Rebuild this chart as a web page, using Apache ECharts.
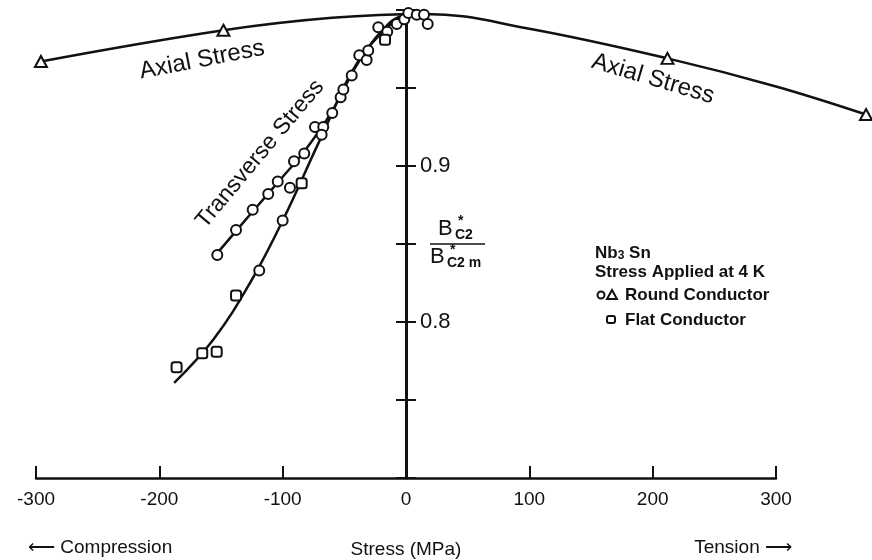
<!DOCTYPE html>
<html>
<head>
<meta charset="utf-8">
<script src="https://cdn.jsdelivr.net/npm/echarts@6/dist/echarts.min.js"></script>
<style>
  html, body { margin: 0; padding: 0; background: #fff; }
  #chart { width: 872px; height: 560px; }
</style>
</head>
<body>
<div id="chart"></div>
<script>
// stress (MPa) vs Bc2*/Bc2m
const axialCurve = [
    [-296, 0.967], [-148, 0.987], [-60, 0.995], [15, 0.9975],
    [100, 0.988], [212, 0.969], [300, 0.951], [373, 0.933]
];
const axialPoints = [[-296, 0.967], [-148, 0.987], [212, 0.969], [373, 0.933]];

const roundCurve = [
    [-153.2, 0.844], [-124.1, 0.871], [-102.2, 0.891], [-81.9, 0.910],
    [-60.0, 0.935], [-37.3, 0.968], [-13.0, 0.992], [0, 0.997]
];
const flatCurve = [
    [-188.0, 0.761], [-156.0, 0.789], [-126.5, 0.825], [-100.0, 0.865],
    [-68.4, 0.919], [-37.3, 0.969], [-4.9, 0.996]
];

const roundPoints = [
    [-153.0, 0.843], [-137.8, 0.859], [-124.3, 0.872], [-111.7, 0.882], [-104.0, 0.890],
    [-90.8, 0.903], [-82.5, 0.908], [-73.8, 0.925], [-67.1, 0.925], [-68.4, 0.920],
    [-59.8, 0.934], [-53.0, 0.944], [-50.8, 0.949], [-44.0, 0.958], [-37.9, 0.971],
    [-31.9, 0.968], [-30.6, 0.974], [-22.5, 0.989], [-15.2, 0.986], [-7.5, 0.991],
    [-1.4, 0.994], [1.9, 0.998], [8.7, 0.997], [14.6, 0.997], [17.6, 0.991],
    [-119.0, 0.833], [-100.0, 0.865], [-94.1, 0.886]
];
const flatPoints = [
    [-186.0, 0.771], [-165.2, 0.780], [-153.5, 0.781], [-137.8, 0.817],
    [-84.6, 0.889], [-17.0, 0.981]
];

const xTickLabels = ['-300', '-200', '-100', '0', '100', '200', '300'];
const yTickLabels = ['0.8', '0.9'];

const FONT = "'Liberation Sans', Arial, sans-serif";
const INK = '#111';

const chart = echarts.init(document.getElementById('chart'), null, { renderer: 'canvas' });

function lineSeries(name, data) {
    return {
        type: 'line', name: name, data: data,
        xAxisIndex: 0, yAxisIndex: 0,
        smooth: 0.4,
        showSymbol: false, symbol: 'none',
        lineStyle: { color: INK, width: 2.5 },
        silent: true, z: 2
    };
}

function pointSeries(name, data, symbol, size) {
    return {
        type: 'scatter', name: name, data: data,
        xAxisIndex: 0, yAxisIndex: 0,
        symbol: symbol, symbolSize: size, clip: false,
        itemStyle: { color: '#fff', borderColor: INK, borderWidth: 2, opacity: 1 },
        silent: true, z: 3
    };
}

const hiddenAxis = (grid, min, max) => ({ type: 'value', gridIndex: grid, min: min, max: max, show: false });

const option = {
    backgroundColor: '#fff',
    animation: false,
    textStyle: { fontFamily: FONT, color: INK },
    grid: [
        // data grid, same scale as the axis grid but running on to 375 MPa
        { left: 36, top: 10, width: 832.5, bottom: 82, outerBoundsMode: 'none' },
        // x axis: -300..300
        { left: 36, top: 10, width: 740, bottom: 82, outerBoundsMode: 'none' },
        // y axis sits at stress = 0
        { left: 406, top: 10, width: 100, bottom: 82, outerBoundsMode: 'none' }
    ],
    xAxis: [
        hiddenAxis(0, -300, 375),
        {
            type: 'value', gridIndex: 1, min: -300, max: 300, interval: 100,
            axisLine: { show: true, onZero: false, lineStyle: { color: INK, width: 2.5 } },
            axisTick: { show: true, inside: true, length: 12, lineStyle: { color: INK, width: 2 } },
            axisLabel: {
                margin: 12, fontSize: 19, color: INK, fontFamily: FONT,
                formatter: v => xTickLabels[Math.round((v + 300) / 100)]
            },
            splitLine: { show: false },
            name: 'Stress (MPa)', nameLocation: 'middle', nameGap: 62,
            nameTextStyle: { fontSize: 19, color: INK, fontFamily: FONT }
        },
        hiddenAxis(2, 0, 1)
    ],
    yAxis: [
        hiddenAxis(0, 0.7, 1.0),
        hiddenAxis(1, 0.7, 1.0),
        {
            type: 'value', gridIndex: 2, min: 0.7, max: 1.0, interval: 0.05, position: 'left',
            axisLine: { show: true, onZero: false, lineStyle: { color: INK, width: 3 } },
            axisTick: { show: true, inside: true, length: 10, lineStyle: { color: INK, width: 2 } },
            axisLabel: {
                inside: true, margin: 14, fontSize: 22, color: INK, fontFamily: FONT,
                formatter: v => {
                    const s = v.toFixed(1);
                    return yTickLabels.includes(s) && Math.abs(v - parseFloat(s)) < 1e-6 ? s : '';
                }
            },
            splitLine: { show: false }
        },
        {
            // outer half of the crossing ticks
            type: 'value', gridIndex: 2, min: 0.7, max: 1.0, interval: 0.05, position: 'left',
            axisLine: { show: false, onZero: false },
            axisTick: { show: true, inside: false, length: 10, lineStyle: { color: INK, width: 2 } },
            axisLabel: { show: false },
            splitLine: { show: false }
        }
    ],
    series: [
        lineSeries('Axial', axialCurve),
        lineSeries('Transverse round', roundCurve),
        lineSeries('Transverse flat', flatCurve),
        pointSeries('Axial points', axialPoints, 'triangle', [12, 11]),
        pointSeries('Round Conductor', roundPoints, 'circle', 10),
        pointSeries('Flat Conductor', flatPoints, 'roundRect', 10)
    ],
    graphic: [
        {
            type: 'text', x: 202, y: 60, rotation: 11 * Math.PI / 180,
            style: { text: 'Axial Stress', fill: INK, font: '24px ' + FONT, align: 'center', verticalAlign: 'middle' }
        },
        {
            type: 'text', x: 653, y: 79, rotation: -16.5 * Math.PI / 180,
            style: { text: 'Axial Stress', fill: INK, font: '24px ' + FONT, align: 'center', verticalAlign: 'middle' }
        },
        {
            type: 'text', x: 260, y: 154, rotation: 50 * Math.PI / 180,
            style: { text: 'Transverse Stress', fill: INK, font: '23px ' + FONT, align: 'center', verticalAlign: 'middle' }
        },
        // B*c2 / B*c2m
        { type: 'text', x: 438, y: 229, style: { text: 'B', fill: INK, font: '22px ' + FONT, verticalAlign: 'middle' } },
        { type: 'text', x: 458, y: 221, style: { text: '*', fill: INK, font: 'bold 14px ' + FONT, verticalAlign: 'middle' } },
        { type: 'text', x: 455, y: 235, style: { text: 'C2', fill: INK, font: 'bold 14px ' + FONT, verticalAlign: 'middle' } },
        { type: 'line', shape: { x1: 430, y1: 244, x2: 485, y2: 244 }, style: { stroke: INK, lineWidth: 1.5 } },
        { type: 'text', x: 430, y: 257, style: { text: 'B', fill: INK, font: '22px ' + FONT, verticalAlign: 'middle' } },
        { type: 'text', x: 450, y: 250, style: { text: '*', fill: INK, font: 'bold 14px ' + FONT, verticalAlign: 'middle' } },
        { type: 'text', x: 447, y: 263, style: { text: 'C2 m', fill: INK, font: 'bold 14px ' + FONT, verticalAlign: 'middle' } },
        // key
        {
            type: 'text', x: 595, y: 253,
            style: { text: '{a|Nb}{s|3}{a| Sn}', fill: INK, verticalAlign: 'middle',
                rich: { a: { fontSize: 17, fontWeight: 'bold', fontFamily: FONT }, s: { fontSize: 12, fontWeight: 'bold', fontFamily: FONT, padding: [6, 0, 0, 0] } } }
        },
        { type: 'text', x: 595, y: 272, style: { text: 'Stress Applied at 4 K', fill: INK, font: 'bold 17px ' + FONT, verticalAlign: 'middle' } },
        { type: 'circle', shape: { cx: 601, cy: 295, r: 3.5 }, style: { fill: '#fff', stroke: INK, lineWidth: 2 } },
        { type: 'polygon', shape: { points: [[612, 290], [607, 299], [617, 299]] }, style: { fill: '#fff', stroke: INK, lineWidth: 2 } },
        { type: 'text', x: 625, y: 295, style: { text: 'Round Conductor', fill: INK, font: 'bold 17px ' + FONT, verticalAlign: 'middle' } },
        { type: 'rect', shape: { x: 607, y: 316, width: 8, height: 7, r: 2 }, style: { fill: '#fff', stroke: INK, lineWidth: 2 } },
        { type: 'text', x: 625, y: 320, style: { text: 'Flat Conductor', fill: INK, font: 'bold 17px ' + FONT, verticalAlign: 'middle' } },
        // direction hints under the axis
        { type: 'text', x: 28, y: 548, style: { text: '\u27F5 Compression', fill: INK, font: '19px ' + FONT, verticalAlign: 'middle' } },
        { type: 'text', x: 792, y: 548, style: { text: 'Tension \u27F6', fill: INK, font: '19px ' + FONT, align: 'right', verticalAlign: 'middle' } }
    ]
};

chart.setOption(option);
</script>
</body>
</html>
